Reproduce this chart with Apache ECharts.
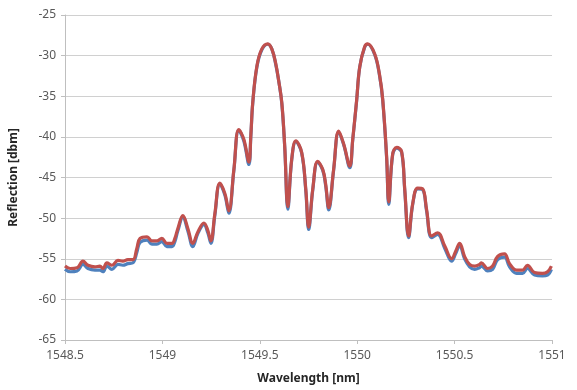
<!DOCTYPE html>
<html>
<head>
<meta charset="utf-8">
<script src="https://cdn.jsdelivr.net/npm/echarts@6/dist/echarts.min.js"></script>
<style>html,body{margin:0;padding:0;background:#fff}#c{width:577px;height:390px}</style>
</head>
<body>
<div id="c"></div>
<script>
const xTicks = [1548.5, 1549, 1549.5, 1550, 1550.5, 1551];
const yTicks = [-65, -60, -55, -50, -45, -40, -35, -30, -25];

const wavelength = [
1548.500,1548.526,1548.562,1548.592,1548.618,1548.654,1548.679,1548.695,1548.715,1548.741,
1548.772,1548.797,1548.823,1548.849,1548.869,1548.885,1548.921,1548.946,1548.972,1548.997,
1549.023,1549.049,1549.064,1549.079,1549.105,1549.131,1549.156,1549.182,1549.213,1549.233,
1549.249,1549.269,1549.295,1549.321,1549.341,1549.367,1549.392,1549.418,1549.444,1549.454,
1549.464,1549.485,1549.510,1549.541,1549.562,1549.582,1549.597,1549.613,1549.628,1549.644,
1549.664,1549.685,1549.715,1549.736,1549.751,1549.772,1549.797,1549.823,1549.838,1549.854,
1549.879,1549.905,1549.931,1549.962,1549.977,1549.997,1550.013,1550.038,1550.054,1550.090,
1550.115,1550.131,1550.151,1550.162,1550.182,1550.203,1550.228,1550.244,1550.264,
1550.285,1550.310,1550.336,1550.356,1550.382,1550.413,1550.449,1550.485,1550.505,1550.526,
1550.551,1550.577,1550.603,1550.628,1550.638,1550.669,1550.695,1550.721,1550.756,1550.782,
1550.818,1550.849,1550.874,1550.910,1550.951,1550.977,1550.997
];

const reflectionRed = [
-55.9,-56.2,-56.1,-55.3,-55.8,-56.0,-55.9,-56.2,-55.5,-55.8,
-55.2,-55.3,-55.1,-55.1,-53.7,-52.5,-52.3,-52.8,-52.8,-52.5,
-53.1,-53.1,-52.5,-51.3,-49.7,-51.3,-53.1,-51.7,-50.6,-51.5,
-52.8,-49.5,-45.7,-47.0,-49.1,-44.0,-39.1,-40.3,-43.1,-39.8,
-35.7,-31.3,-29.2,-28.55,-29.2,-31.0,-33.1,-35.8,-41.2,-48.6,
-42.7,-40.5,-41.9,-46.4,-51.1,-46.4,-43.0,-44.0,-45.8,-48.7,
-44.0,-39.3,-40.9,-43.6,-40.3,-35.5,-31.4,-28.9,-28.55,-29.8,
-32.4,-35.4,-42.4,-48.0,-42.1,-41.3,-41.8,-46.4,-52.2,
-48.2,-46.3,-46.4,-48.9,-52.2,-51.8,-53.4,-55.0,-54.1,-53.1,
-54.7,-55.7,-55.9,-55.7,-55.5,-56.2,-55.9,-54.7,-54.4,-55.6,
-56.4,-56.4,-55.8,-56.7,-56.8,-56.6,-55.9
];

const reflectionBlue = [
-56.3,-56.6,-56.5,-55.7,-56.2,-56.4,-56.4,-56.6,-55.9,-56.3,
-55.7,-55.8,-55.6,-55.5,-54.2,-53.0,-52.7,-53.2,-53.2,-52.9,
-53.5,-53.5,-52.9,-51.6,-49.9,-51.6,-53.5,-51.9,-50.8,-51.8,
-53.1,-49.7,-45.8,-47.2,-49.4,-44.1,-39.2,-40.5,-43.4,-39.9,
-35.8,-31.4,-29.3,-28.6,-29.2,-31.1,-33.1,-35.9,-41.3,-48.9,
-42.8,-40.6,-42.0,-46.6,-51.4,-46.5,-43.1,-44.1,-46.0,-49.0,
-44.1,-39.4,-41.0,-43.8,-40.4,-35.6,-31.4,-29.0,-28.6,-29.9,
-32.5,-35.5,-42.6,-48.3,-42.2,-41.4,-41.9,-46.6,-52.4,
-48.3,-46.4,-46.5,-49.1,-52.4,-52.0,-53.7,-55.3,-54.4,-53.4,
-55.0,-56.0,-56.3,-56.1,-55.9,-56.5,-56.3,-55.1,-54.8,-56.0,
-56.8,-56.8,-56.2,-57.0,-57.1,-57.0,-56.3
];

const toPairs = (ys) => wavelength.map((x, i) => [x, ys[i]]);
const FONT = 'Noto Sans';
const chart = echarts.init(document.getElementById('c'), null, {renderer: 'canvas'});
chart.setOption({
  animation: false,
  grid: {left: 65, right: 25, top: 15, bottom: 48, containLabel: false},
  xAxis: {
    type: 'value', min: xTicks[0], max: xTicks[xTicks.length - 1], interval: 0.5,
    name: 'Wavelength [nm]', nameLocation: 'middle', nameGap: 33,
    nameTextStyle: {fontFamily: FONT, fontSize: 12, fontWeight: 'bold', color: '#262626'},
    axisLine: {lineStyle: {color: '#bfbfbf', width: 1}},
    axisTick: {show: true, length: 4, lineStyle: {color: '#bfbfbf'}},
    axisLabel: {fontFamily: FONT, fontSize: 12, color: '#595959', margin: 10,
      formatter: (v) => String(v)},
    splitLine: {show: false}
  },
  yAxis: {
    type: 'value', min: yTicks[0], max: yTicks[yTicks.length - 1], interval: 5,
    name: 'Reflection [dbm]', nameLocation: 'middle', nameGap: 45, nameRotate: 90,
    nameTextStyle: {fontFamily: FONT, fontSize: 12, fontWeight: 'bold', color: '#262626'},
    axisLine: {show: true, lineStyle: {color: '#bfbfbf', width: 1}},
    axisTick: {show: true, length: 4, lineStyle: {color: '#bfbfbf'}},
    axisLabel: {fontFamily: FONT, fontSize: 12, color: '#595959', margin: 9},
    splitLine: {show: true, lineStyle: {color: '#d0d0d0', width: 1}}
  },
  series: [
    {type: 'line', data: toPairs(reflectionBlue), showSymbol: false, smooth: 0.4,
     lineStyle: {color: '#4f81bd', width: 3.2}, z: 2},
    {type: 'line', data: toPairs(reflectionRed), showSymbol: false, smooth: 0.4,
     lineStyle: {color: '#c0504d', width: 3.2}, z: 3}
  ]
});
</script>
</body>
</html>
